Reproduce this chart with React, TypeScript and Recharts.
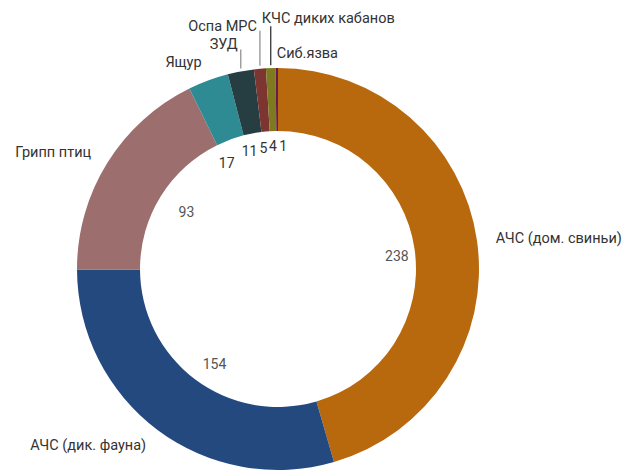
import React from "react";
import { PieChart, Pie, Cell } from "recharts";

const diseases = [
  "АЧС (дом. свиньи)",
  "АЧС (дик. фауна)",
  "Грипп птиц",
  "Ящур",
  "ЗУД",
  "Оспа МРС",
  "КЧС диких кабанов",
  "Сиб.язва",
];
const outbreaks = [238, 154, 93, 17, 11, 5, 4, 1];
const colors = ["#B8690E", "#24497F", "#9C6E6D", "#2E8B94", "#263D42", "#7C3530", "#7D7A20", "#6A1A4A"];

// how each name label is placed around the ring
const nameLayout = [
  { kind: "radial", gap: 19 },
  { kind: "radial", gap: 19 },
  { kind: "radial", gap: 19 },
  { kind: "radial", gap: 19 },
  { kind: "stem", stem: 22, dx: -3, anchor: "end", line: "#888" },
  { kind: "stem", stem: 38, dx: -3, anchor: "end", line: "#888" },
  { kind: "stem", stem: 42, dx: -9, anchor: "start", line: "#222", lift: 3 },
  { kind: "plain", stem: 10, dx: 0, anchor: "start" },
];
// small nudges so the crowded value labels don't collide
const valueNudge = [
  [4, 3], [6, 2], [7, 4], [-11, 3], [-7, -4], [-4, -5], [-1, -7], [6, -7],
];

const data = diseases.map((name, i) => ({ name, value: outbreaks[i] }));

const RAD = Math.PI / 180;

const renderLabel = (props: any) => {
  const { cx, cy, midAngle, innerRadius, outerRadius, value, index } = props;
  const cos = Math.cos(-midAngle * RAD);
  const sin = Math.sin(-midAngle * RAD);
  const vr = innerRadius - 22;
  const vx = cx + vr * cos + valueNudge[index][0];
  const vy = cy + vr * sin + valueNudge[index][1];
  const layout: any = nameLayout[index];
  let nameEl = null;
  if (layout.kind === "radial") {
    const r = outerRadius + layout.gap;
    const x = cx + r * cos;
    const y = cy + r * sin;
    nameEl = (
      <text x={x} y={y} textAnchor={cos >= 0 ? "start" : "end"} dominantBaseline="central" fill="#333" fontSize={14.5}>
        {diseases[index]}
      </text>
    );
  } else {
    const ox = cx + outerRadius * cos;
    const oy = cy + outerRadius * sin;
    const top = oy - layout.stem;
    nameEl = (
      <g>
        {layout.kind === "stem" && (
          <line x1={ox} y1={oy - 3} x2={ox} y2={top} stroke={layout.line} strokeWidth={1.2} />
        )}
        <text x={ox + layout.dx} y={top - (layout.lift || 0)} textAnchor={layout.anchor} fill="#333" fontSize={14.5}>
          {diseases[index]}
        </text>
      </g>
    );
  }
  return (
    <g key={`lbl-${index}`}>
      <text x={vx} y={vy} textAnchor="middle" dominantBaseline="central" fill={index < 3 ? "#555" : "#333"} fontSize={14}>
        {value}
      </text>
      {nameEl}
    </g>
  );
};

export default function App() {
  return (
    <div style={{ position: "absolute", left: 0, top: 0, width: 629, height: 472, background: "#fff", fontFamily: "Roboto, sans-serif" }}>
      <PieChart width={629} height={472} margin={{ top: 0, right: 0, bottom: 0, left: 0 }}>
        <Pie
          data={data}
          dataKey="value"
          nameKey="name"
          cx={278}
          cy={269}
          innerRadius={138}
          outerRadius={201}
          startAngle={90}
          endAngle={-270}
          stroke="none"
          label={renderLabel}
          labelLine={false}
          isAnimationActive={false}
        >
          {data.map((d, i) => (
            <Cell key={d.name} fill={colors[i]} />
          ))}
        </Pie>
      </PieChart>
    </div>
  );
}
